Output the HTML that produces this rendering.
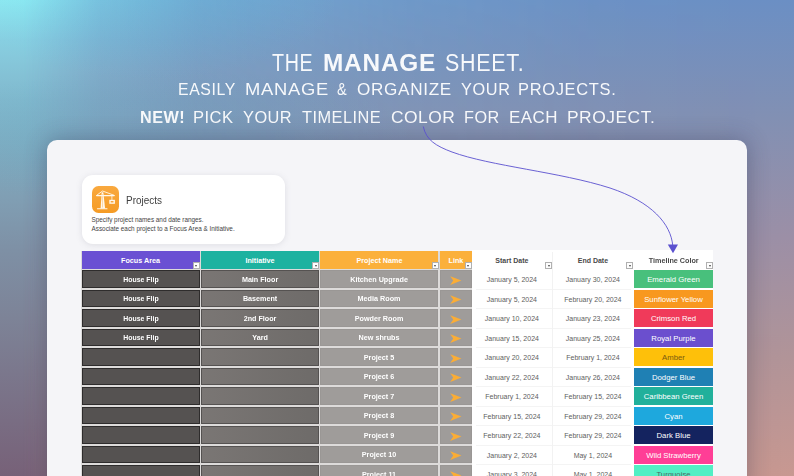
<!DOCTYPE html><html><head><meta charset="utf-8"><title>Manage Sheet</title><style>
html,body{margin:0;padding:0;}
body{width:794px;height:476px;overflow:hidden;position:relative;font-family:"Liberation Sans",sans-serif;background:#7a90b8;}
#bg{position:absolute;left:0;top:0;width:794px;height:476px;
 background:linear-gradient(to bottom, #6b8fc4 0%, #8290b3 25%, #9c8fa6 50%, #b19498 75%, #c89891 100%);
}
#bgr{position:absolute;left:0;top:0;width:794px;height:476px;
 background:radial-gradient(ellipse 190px 80px at 150px 0px, rgba(60,200,235,0.13) 0%, rgba(60,200,235,0.09) 50%, rgba(60,200,235,0) 100%),radial-gradient(ellipse 260px 70px at 160px 138px, rgba(60,170,200,0.13) 0%, rgba(60,170,200,0.09) 50%, rgba(60,170,200,0) 100%);
}
.t{position:absolute;white-space:nowrap;color:rgba(255,255,255,0.94);line-height:1;}
#panel{position:absolute;left:47.4px;top:140.3px;width:699.5px;height:360px;background:#f5f5f8;border-radius:10px;box-shadow:0 0 22px 1px rgba(30,40,70,0.30);}
#card{position:absolute;left:82px;top:174.5px;width:202.5px;height:69px;background:#ffffff;border-radius:11px;box-shadow:0 1px 6px rgba(120,120,140,0.18);}
#icon{position:absolute;left:91.8px;top:186.1px;width:27.1px;height:27px;border-radius:6.5px;background:linear-gradient(to bottom,#f9a93f,#f59b25);}
.c{position:absolute;box-sizing:border-box;}
.ct{position:absolute;white-space:nowrap;text-align:center;line-height:1;}
.fb{position:absolute;width:7.2px;height:7.3px;background:#fdfdfd;box-sizing:border-box;border:0.6px solid #b0b0b0;}
.fb:after{content:"";position:absolute;left:1.5px;top:2.3px;border-left:1.6px solid transparent;border-right:1.6px solid transparent;border-top:2px solid #444;}
</style></head><body>
<div id="bg"></div><svg style="position:absolute;left:0;top:0" width="794" height="476" viewBox="0 0 794 476"><defs><linearGradient id="lv" x1="0" y1="0" x2="0" y2="1"><stop offset="0" stop-color="#8fe9f1"/><stop offset="0.084" stop-color="#88cfe1"/><stop offset="0.21" stop-color="#81b8cd"/><stop offset="0.42" stop-color="#809eb3"/><stop offset="0.525" stop-color="#7e90a5"/><stop offset="0.67" stop-color="#7d8397"/><stop offset="1" stop-color="#776178"/></linearGradient><linearGradient id="mh" x1="0" y1="0" x2="1" y2="0"><stop offset="0" stop-color="#fff" stop-opacity="1"/><stop offset="0.03" stop-color="#fff" stop-opacity="1"/><stop offset="0.126" stop-color="#fff" stop-opacity="0.55"/><stop offset="0.25" stop-color="#fff" stop-opacity="0.28"/><stop offset="0.5" stop-color="#fff" stop-opacity="0.12"/><stop offset="0.75" stop-color="#fff" stop-opacity="0.03"/><stop offset="1" stop-color="#fff" stop-opacity="0"/></linearGradient><mask id="mk" maskUnits="userSpaceOnUse" x="0" y="0" width="794" height="476"><rect x="0" y="0" width="794" height="476" fill="url(#mh)"/></mask></defs><rect x="0" y="0" width="794" height="476" fill="url(#lv)" mask="url(#mk)"/></svg><div id="bgr"></div>
<span class="t" style="left:272.00px;top:50.81px;font-size:24.2px;font-weight:400;letter-spacing:0.8px;transform:scaleX(0.8146);transform-origin:0 0">THE</span>
<span class="t" style="left:322.99px;top:50.81px;font-size:24.2px;font-weight:700;letter-spacing:0.8px;transform:scaleX(1.0076);transform-origin:0 0">MANAGE</span>
<span class="t" style="left:444.91px;top:50.81px;font-size:24.2px;font-weight:400;letter-spacing:0.8px;transform:scaleX(0.8865);transform-origin:0 0">SHEET.</span>
<span class="t" style="left:177.69px;top:80.56px;font-size:17.3px;font-weight:400;letter-spacing:0.7px;transform:scaleX(0.9147);transform-origin:0 0">EASILY</span>
<span class="t" style="left:244.54px;top:80.56px;font-size:17.3px;font-weight:400;letter-spacing:0.7px;transform:scaleX(1.0615);transform-origin:0 0">MANAGE</span>
<span class="t" style="left:337.10px;top:80.56px;font-size:17.3px;font-weight:400;letter-spacing:0.7px;transform:scaleX(0.8417);transform-origin:0 0">&amp;</span>
<span class="t" style="left:357.30px;top:80.56px;font-size:17.3px;font-weight:400;letter-spacing:0.7px;transform:scaleX(0.9902);transform-origin:0 0">ORGANIZE</span>
<span class="t" style="left:461.00px;top:80.56px;font-size:17.3px;font-weight:400;letter-spacing:0.7px;transform:scaleX(0.9428);transform-origin:0 0">YOUR</span>
<span class="t" style="left:518.25px;top:80.56px;font-size:17.3px;font-weight:400;letter-spacing:0.7px;transform:scaleX(0.9526);transform-origin:0 0">PROJECTS.</span>
<span class="t" style="left:140.06px;top:108.66px;font-size:17.3px;font-weight:700;letter-spacing:0.5px;transform:scaleX(0.9385);transform-origin:0 0">NEW!</span>
<span class="t" style="left:193.14px;top:108.66px;font-size:17.3px;font-weight:400;letter-spacing:0.5px;transform:scaleX(0.9587);transform-origin:0 0">PICK</span>
<span class="t" style="left:243.30px;top:108.66px;font-size:17.3px;font-weight:400;letter-spacing:0.5px;transform:scaleX(0.9461);transform-origin:0 0">YOUR</span>
<span class="t" style="left:301.80px;top:108.66px;font-size:17.3px;font-weight:400;letter-spacing:0.5px;transform:scaleX(0.9447);transform-origin:0 0">TIMELINE</span>
<span class="t" style="left:390.60px;top:108.66px;font-size:17.3px;font-weight:400;letter-spacing:0.5px;transform:scaleX(1.0068);transform-origin:0 0">COLOR</span>
<span class="t" style="left:464.26px;top:108.66px;font-size:17.3px;font-weight:400;letter-spacing:0.5px;transform:scaleX(0.9389);transform-origin:0 0">FOR</span>
<span class="t" style="left:508.62px;top:108.66px;font-size:17.3px;font-weight:400;letter-spacing:0.5px;transform:scaleX(0.9806);transform-origin:0 0">EACH</span>
<span class="t" style="left:566.79px;top:108.66px;font-size:17.3px;font-weight:400;letter-spacing:0.5px;transform:scaleX(1.0078);transform-origin:0 0">PROJECT.</span>
<div id="panel"></div>
<div id="card"></div>
<div id="icon"></div>
<svg style="position:absolute;left:91.8px;top:186.1px" width="27.3" height="27" viewBox="0 0 27.3 27">
<path d="M9.7 6.2 L11.3 6.2 L13.1 22.4 L8.6 22.4 Z" fill="#fff8ec"/>
<path d="M10.5 8 L10.5 21.5" stroke="#f8b867" stroke-width="0.5"/>
<g fill="none" stroke="#fff8ec" stroke-linecap="round" stroke-linejoin="round">
<path d="M4.6 9.5 H22.2" stroke-width="1.25"/>
<path d="M4.9 9.2 L10.5 5 L21.9 9.2" stroke-width="0.9"/>
<path d="M5.4 22.8 H15" stroke-width="1.1"/>
<path d="M19.9 9.6 V13.8" stroke-width="0.8"/>
</g>
<rect x="17.3" y="13.8" width="5.6" height="4.0" fill="#fff8ec"/>
<rect x="18.7" y="15.0" width="2.8" height="1.5" fill="#f7a640"/>
</svg>
<span class="t" style="left:126.4px;top:195.2px;font-size:11.3px;color:#3f3f3f;transform:scaleX(0.88);transform-origin:0 0">Projects</span>
<span class="t" id="d1" style="left:91.5px;top:217.4px;font-size:6.37px;color:#444;">Specify project names and date ranges.</span>
<span class="t" id="d2" style="left:91.5px;top:226.0px;font-size:6.37px;color:#444;">Associate each project to a Focus Area &amp; Initiative.</span>
<div class="c" style="left:471.8px;top:250.3px;width:241.4px;height:240px;background:#ffffff"></div>
<div class="c" style="left:81.1px;top:250.6px;width:390.6px;height:240px;background:#dddbda"></div>
<div class="c" style="left:81.5px;top:250.7px;width:118.0px;height:18.4px;background:#6a50d3"></div>
<span class="ct" style="left:81.5px;width:118.0px;top:257.0px;font-size:7.2px;font-weight:700;color:#fff;transform:scaleX(1)">Focus Area</span>
<div class="fb" style="left:192.6px;top:261.8px"></div>
<div class="c" style="left:201.0px;top:250.7px;width:118.1px;height:18.4px;background:#1db2a0"></div>
<span class="ct" style="left:201.0px;width:118.1px;top:257.0px;font-size:7.2px;font-weight:700;color:#fff;transform:scaleX(1)">Initiative</span>
<div class="fb" style="left:312.2px;top:261.8px"></div>
<div class="c" style="left:320.4px;top:250.7px;width:118.1px;height:18.4px;background:#fbb03b"></div>
<span class="ct" style="left:320.4px;width:118.1px;top:257.0px;font-size:7.2px;font-weight:700;color:#fff;transform:scaleX(1)">Project Name</span>
<div class="fb" style="left:431.6px;top:261.8px"></div>
<div class="c" style="left:440.1px;top:250.7px;width:31.6px;height:18.4px;background:#fbb03b"></div>
<span class="ct" style="left:440.1px;width:31.6px;top:257.0px;font-size:7.2px;font-weight:700;color:#fff;transform:scaleX(1)">Link</span>
<div class="fb" style="left:464.8px;top:261.8px"></div>
<span class="ct" style="left:471.8px;width:80.2px;top:257.0px;font-size:7.0px;font-weight:700;color:#4a4a4a;transform:scaleX(1)">Start Date</span>
<div class="fb" style="left:545.1px;top:261.8px"></div>
<span class="ct" style="left:552.6px;width:80.6px;top:257.0px;font-size:7.0px;font-weight:700;color:#4a4a4a;transform:scaleX(1)">End Date</span>
<div class="fb" style="left:626.3px;top:261.8px"></div>
<span class="ct" style="left:633.8px;width:79.4px;top:257.0px;font-size:7.0px;font-weight:700;color:#4a4a4a;transform:scaleX(1.03)">Timeline Color</span>
<div class="fb" style="left:706.3px;top:261.8px"></div>
<div class="c" style="left:81.5px;top:270.10px;width:118.0px;height:17.8px;background:#555251;border-top:1px solid #2e2c2c;border-bottom:1px solid #2e2c2c;border-left:1px solid #2e2c2c;border-right:0.6px solid #2e2c2c;"></div>
<span class="ct" style="left:81.5px;width:118.0px;top:275.70px;font-size:7.6px;font-weight:700;color:#fff;transform:scaleX(0.91)">House Flip</span>
<div class="c" style="left:201.0px;top:270.10px;width:118.1px;height:17.8px;background:linear-gradient(to right,#7a7674,#6e6b69);border-top:1px solid #555251;border-bottom:1px solid #555251;border-left:1px solid #555251;border-right:0.6px solid #555251;"></div>
<span class="ct" style="left:201.0px;width:118.1px;top:275.70px;font-size:7.6px;font-weight:700;color:#fff;transform:scaleX(0.945)">Main Floor</span>
<div class="c" style="left:320.4px;top:270.10px;width:118.1px;height:17.8px;background:#9f9c9a;border-top:1px solid #9a9795;border-bottom:1px solid #9a9795;border-left:1px solid #9a9795;border-right:0.6px solid #9a9795;"></div>
<span class="ct" style="left:320.4px;width:118.1px;top:275.70px;font-size:7.6px;font-weight:700;color:#fff;transform:scaleX(0.95)">Kitchen Upgrade</span>
<div class="c" style="left:440.1px;top:270.10px;width:31.6px;height:17.8px;background:#9f9c9a;border-top:1px solid #9a9795;border-bottom:1px solid #9a9795;border-left:1px solid #9a9795;border-right:0.6px solid #9a9795;"></div>
<svg style="position:absolute;left:450.3px;top:275.60px" width="11.6" height="9.2" viewBox="0 0 11.6 9.2"><path d="M0.2 0.2 L11.4 4.6 L0.2 9 L3.2 4.6 Z" fill="#fbad35"/></svg>
<span class="ct" style="left:471.8px;width:80.2px;top:276.00px;font-size:7.0px;color:#5e5e5e">January 5, 2024</span>
<span class="ct" style="left:552.6px;width:80.6px;top:276.00px;font-size:7.0px;color:#5e5e5e">January 30, 2024</span>
<div class="c" style="left:475.8px;top:288.50px;width:155.4px;height:0.8px;background:#f4f4f4"></div>
<div class="c" style="left:633.8px;top:270.40px;width:79.4px;height:17.7px;background:#48c07c"></div>
<span class="ct" style="left:633.8px;width:79.4px;top:276.40px;font-size:7.75px;color:#ffffff">Emerald Green</span>
<div class="c" style="left:81.5px;top:289.60px;width:118.0px;height:17.8px;background:#555251;border-top:1px solid #2e2c2c;border-bottom:1px solid #2e2c2c;border-left:1px solid #2e2c2c;border-right:0.6px solid #2e2c2c;"></div>
<span class="ct" style="left:81.5px;width:118.0px;top:295.20px;font-size:7.6px;font-weight:700;color:#fff;transform:scaleX(0.91)">House Flip</span>
<div class="c" style="left:201.0px;top:289.60px;width:118.1px;height:17.8px;background:linear-gradient(to right,#7a7674,#6e6b69);border-top:1px solid #555251;border-bottom:1px solid #555251;border-left:1px solid #555251;border-right:0.6px solid #555251;"></div>
<span class="ct" style="left:201.0px;width:118.1px;top:295.20px;font-size:7.6px;font-weight:700;color:#fff;transform:scaleX(0.945)">Basement</span>
<div class="c" style="left:320.4px;top:289.60px;width:118.1px;height:17.8px;background:#9f9c9a;border-top:1px solid #9a9795;border-bottom:1px solid #9a9795;border-left:1px solid #9a9795;border-right:0.6px solid #9a9795;"></div>
<span class="ct" style="left:320.4px;width:118.1px;top:295.20px;font-size:7.6px;font-weight:700;color:#fff;transform:scaleX(0.95)">Media Room</span>
<div class="c" style="left:440.1px;top:289.60px;width:31.6px;height:17.8px;background:#9f9c9a;border-top:1px solid #9a9795;border-bottom:1px solid #9a9795;border-left:1px solid #9a9795;border-right:0.6px solid #9a9795;"></div>
<svg style="position:absolute;left:450.3px;top:295.10px" width="11.6" height="9.2" viewBox="0 0 11.6 9.2"><path d="M0.2 0.2 L11.4 4.6 L0.2 9 L3.2 4.6 Z" fill="#fbad35"/></svg>
<span class="ct" style="left:471.8px;width:80.2px;top:295.50px;font-size:7.0px;color:#5e5e5e">January 5, 2024</span>
<span class="ct" style="left:552.6px;width:80.6px;top:295.50px;font-size:7.0px;color:#5e5e5e">February 20, 2024</span>
<div class="c" style="left:475.8px;top:308.00px;width:155.4px;height:0.8px;background:#f4f4f4"></div>
<div class="c" style="left:633.8px;top:289.90px;width:79.4px;height:17.7px;background:#f8981f"></div>
<span class="ct" style="left:633.8px;width:79.4px;top:295.90px;font-size:7.75px;color:#ffffff">Sunflower Yellow</span>
<div class="c" style="left:81.5px;top:309.10px;width:118.0px;height:17.8px;background:#555251;border-top:1px solid #2e2c2c;border-bottom:1px solid #2e2c2c;border-left:1px solid #2e2c2c;border-right:0.6px solid #2e2c2c;"></div>
<span class="ct" style="left:81.5px;width:118.0px;top:314.70px;font-size:7.6px;font-weight:700;color:#fff;transform:scaleX(0.91)">House Flip</span>
<div class="c" style="left:201.0px;top:309.10px;width:118.1px;height:17.8px;background:linear-gradient(to right,#7a7674,#6e6b69);border-top:1px solid #555251;border-bottom:1px solid #555251;border-left:1px solid #555251;border-right:0.6px solid #555251;"></div>
<span class="ct" style="left:201.0px;width:118.1px;top:314.70px;font-size:7.6px;font-weight:700;color:#fff;transform:scaleX(0.945)">2nd Floor</span>
<div class="c" style="left:320.4px;top:309.10px;width:118.1px;height:17.8px;background:#9f9c9a;border-top:1px solid #9a9795;border-bottom:1px solid #9a9795;border-left:1px solid #9a9795;border-right:0.6px solid #9a9795;"></div>
<span class="ct" style="left:320.4px;width:118.1px;top:314.70px;font-size:7.6px;font-weight:700;color:#fff;transform:scaleX(0.95)">Powder Room</span>
<div class="c" style="left:440.1px;top:309.10px;width:31.6px;height:17.8px;background:#9f9c9a;border-top:1px solid #9a9795;border-bottom:1px solid #9a9795;border-left:1px solid #9a9795;border-right:0.6px solid #9a9795;"></div>
<svg style="position:absolute;left:450.3px;top:314.60px" width="11.6" height="9.2" viewBox="0 0 11.6 9.2"><path d="M0.2 0.2 L11.4 4.6 L0.2 9 L3.2 4.6 Z" fill="#fbad35"/></svg>
<span class="ct" style="left:471.8px;width:80.2px;top:315.00px;font-size:7.0px;color:#5e5e5e">January 10, 2024</span>
<span class="ct" style="left:552.6px;width:80.6px;top:315.00px;font-size:7.0px;color:#5e5e5e">January 23, 2024</span>
<div class="c" style="left:475.8px;top:327.50px;width:155.4px;height:0.8px;background:#f4f4f4"></div>
<div class="c" style="left:633.8px;top:309.40px;width:79.4px;height:17.7px;background:#f03a5a"></div>
<span class="ct" style="left:633.8px;width:79.4px;top:315.40px;font-size:7.75px;color:#ffffff">Crimson Red</span>
<div class="c" style="left:81.5px;top:328.60px;width:118.0px;height:17.8px;background:#555251;border-top:1px solid #2e2c2c;border-bottom:1px solid #2e2c2c;border-left:1px solid #2e2c2c;border-right:0.6px solid #2e2c2c;"></div>
<span class="ct" style="left:81.5px;width:118.0px;top:334.20px;font-size:7.6px;font-weight:700;color:#fff;transform:scaleX(0.91)">House Flip</span>
<div class="c" style="left:201.0px;top:328.60px;width:118.1px;height:17.8px;background:linear-gradient(to right,#7a7674,#6e6b69);border-top:1px solid #555251;border-bottom:1px solid #555251;border-left:1px solid #555251;border-right:0.6px solid #555251;"></div>
<span class="ct" style="left:201.0px;width:118.1px;top:334.20px;font-size:7.6px;font-weight:700;color:#fff;transform:scaleX(0.945)">Yard</span>
<div class="c" style="left:320.4px;top:328.60px;width:118.1px;height:17.8px;background:#9f9c9a;border-top:1px solid #9a9795;border-bottom:1px solid #9a9795;border-left:1px solid #9a9795;border-right:0.6px solid #9a9795;"></div>
<span class="ct" style="left:320.4px;width:118.1px;top:334.20px;font-size:7.6px;font-weight:700;color:#fff;transform:scaleX(0.95)">New shrubs</span>
<div class="c" style="left:440.1px;top:328.60px;width:31.6px;height:17.8px;background:#9f9c9a;border-top:1px solid #9a9795;border-bottom:1px solid #9a9795;border-left:1px solid #9a9795;border-right:0.6px solid #9a9795;"></div>
<svg style="position:absolute;left:450.3px;top:334.10px" width="11.6" height="9.2" viewBox="0 0 11.6 9.2"><path d="M0.2 0.2 L11.4 4.6 L0.2 9 L3.2 4.6 Z" fill="#fbad35"/></svg>
<span class="ct" style="left:471.8px;width:80.2px;top:334.50px;font-size:7.0px;color:#5e5e5e">January 15, 2024</span>
<span class="ct" style="left:552.6px;width:80.6px;top:334.50px;font-size:7.0px;color:#5e5e5e">January 25, 2024</span>
<div class="c" style="left:475.8px;top:347.00px;width:155.4px;height:0.8px;background:#f4f4f4"></div>
<div class="c" style="left:633.8px;top:328.90px;width:79.4px;height:17.7px;background:#6b4fce"></div>
<span class="ct" style="left:633.8px;width:79.4px;top:334.90px;font-size:7.75px;color:#ffffff">Royal Purple</span>
<div class="c" style="left:81.5px;top:348.10px;width:118.0px;height:17.8px;background:#555251;border-top:1px solid #2e2c2c;border-bottom:1px solid #2e2c2c;border-left:1px solid #2e2c2c;border-right:0.6px solid #2e2c2c;"></div>
<div class="c" style="left:201.0px;top:348.10px;width:118.1px;height:17.8px;background:linear-gradient(to right,#7a7674,#6e6b69);border-top:1px solid #555251;border-bottom:1px solid #555251;border-left:1px solid #555251;border-right:0.6px solid #555251;"></div>
<div class="c" style="left:320.4px;top:348.10px;width:118.1px;height:17.8px;background:#9f9c9a;border-top:1px solid #9a9795;border-bottom:1px solid #9a9795;border-left:1px solid #9a9795;border-right:0.6px solid #9a9795;"></div>
<span class="ct" style="left:320.4px;width:118.1px;top:353.70px;font-size:7.6px;font-weight:700;color:#fff;transform:scaleX(0.95)">Project 5</span>
<div class="c" style="left:440.1px;top:348.10px;width:31.6px;height:17.8px;background:#9f9c9a;border-top:1px solid #9a9795;border-bottom:1px solid #9a9795;border-left:1px solid #9a9795;border-right:0.6px solid #9a9795;"></div>
<svg style="position:absolute;left:450.3px;top:353.60px" width="11.6" height="9.2" viewBox="0 0 11.6 9.2"><path d="M0.2 0.2 L11.4 4.6 L0.2 9 L3.2 4.6 Z" fill="#fbad35"/></svg>
<span class="ct" style="left:471.8px;width:80.2px;top:354.00px;font-size:7.0px;color:#5e5e5e">January 20, 2024</span>
<span class="ct" style="left:552.6px;width:80.6px;top:354.00px;font-size:7.0px;color:#5e5e5e">February 1, 2024</span>
<div class="c" style="left:475.8px;top:366.50px;width:155.4px;height:0.8px;background:#f4f4f4"></div>
<div class="c" style="left:633.8px;top:348.40px;width:79.4px;height:17.7px;background:#fec00a"></div>
<span class="ct" style="left:633.8px;width:79.4px;top:354.40px;font-size:7.75px;color:#7a5a10">Amber</span>
<div class="c" style="left:81.5px;top:367.60px;width:118.0px;height:17.8px;background:#555251;border-top:1px solid #2e2c2c;border-bottom:1px solid #2e2c2c;border-left:1px solid #2e2c2c;border-right:0.6px solid #2e2c2c;"></div>
<div class="c" style="left:201.0px;top:367.60px;width:118.1px;height:17.8px;background:linear-gradient(to right,#7a7674,#6e6b69);border-top:1px solid #555251;border-bottom:1px solid #555251;border-left:1px solid #555251;border-right:0.6px solid #555251;"></div>
<div class="c" style="left:320.4px;top:367.60px;width:118.1px;height:17.8px;background:#9f9c9a;border-top:1px solid #9a9795;border-bottom:1px solid #9a9795;border-left:1px solid #9a9795;border-right:0.6px solid #9a9795;"></div>
<span class="ct" style="left:320.4px;width:118.1px;top:373.20px;font-size:7.6px;font-weight:700;color:#fff;transform:scaleX(0.95)">Project 6</span>
<div class="c" style="left:440.1px;top:367.60px;width:31.6px;height:17.8px;background:#9f9c9a;border-top:1px solid #9a9795;border-bottom:1px solid #9a9795;border-left:1px solid #9a9795;border-right:0.6px solid #9a9795;"></div>
<svg style="position:absolute;left:450.3px;top:373.10px" width="11.6" height="9.2" viewBox="0 0 11.6 9.2"><path d="M0.2 0.2 L11.4 4.6 L0.2 9 L3.2 4.6 Z" fill="#fbad35"/></svg>
<span class="ct" style="left:471.8px;width:80.2px;top:373.50px;font-size:7.0px;color:#5e5e5e">January 22, 2024</span>
<span class="ct" style="left:552.6px;width:80.6px;top:373.50px;font-size:7.0px;color:#5e5e5e">January 26, 2024</span>
<div class="c" style="left:475.8px;top:386.00px;width:155.4px;height:0.8px;background:#f4f4f4"></div>
<div class="c" style="left:633.8px;top:367.90px;width:79.4px;height:17.7px;background:#1f80b4"></div>
<span class="ct" style="left:633.8px;width:79.4px;top:373.90px;font-size:7.75px;color:#ffffff">Dodger Blue</span>
<div class="c" style="left:81.5px;top:387.10px;width:118.0px;height:17.8px;background:#555251;border-top:1px solid #2e2c2c;border-bottom:1px solid #2e2c2c;border-left:1px solid #2e2c2c;border-right:0.6px solid #2e2c2c;"></div>
<div class="c" style="left:201.0px;top:387.10px;width:118.1px;height:17.8px;background:linear-gradient(to right,#7a7674,#6e6b69);border-top:1px solid #555251;border-bottom:1px solid #555251;border-left:1px solid #555251;border-right:0.6px solid #555251;"></div>
<div class="c" style="left:320.4px;top:387.10px;width:118.1px;height:17.8px;background:#9f9c9a;border-top:1px solid #9a9795;border-bottom:1px solid #9a9795;border-left:1px solid #9a9795;border-right:0.6px solid #9a9795;"></div>
<span class="ct" style="left:320.4px;width:118.1px;top:392.70px;font-size:7.6px;font-weight:700;color:#fff;transform:scaleX(0.95)">Project 7</span>
<div class="c" style="left:440.1px;top:387.10px;width:31.6px;height:17.8px;background:#9f9c9a;border-top:1px solid #9a9795;border-bottom:1px solid #9a9795;border-left:1px solid #9a9795;border-right:0.6px solid #9a9795;"></div>
<svg style="position:absolute;left:450.3px;top:392.60px" width="11.6" height="9.2" viewBox="0 0 11.6 9.2"><path d="M0.2 0.2 L11.4 4.6 L0.2 9 L3.2 4.6 Z" fill="#fbad35"/></svg>
<span class="ct" style="left:471.8px;width:80.2px;top:393.00px;font-size:7.0px;color:#5e5e5e">February 1, 2024</span>
<span class="ct" style="left:552.6px;width:80.6px;top:393.00px;font-size:7.0px;color:#5e5e5e">February 15, 2024</span>
<div class="c" style="left:475.8px;top:405.50px;width:155.4px;height:0.8px;background:#f4f4f4"></div>
<div class="c" style="left:633.8px;top:387.40px;width:79.4px;height:17.7px;background:#21b09b"></div>
<span class="ct" style="left:633.8px;width:79.4px;top:393.40px;font-size:7.75px;color:#ffffff">Caribbean Green</span>
<div class="c" style="left:81.5px;top:406.60px;width:118.0px;height:17.8px;background:#555251;border-top:1px solid #2e2c2c;border-bottom:1px solid #2e2c2c;border-left:1px solid #2e2c2c;border-right:0.6px solid #2e2c2c;"></div>
<div class="c" style="left:201.0px;top:406.60px;width:118.1px;height:17.8px;background:linear-gradient(to right,#7a7674,#6e6b69);border-top:1px solid #555251;border-bottom:1px solid #555251;border-left:1px solid #555251;border-right:0.6px solid #555251;"></div>
<div class="c" style="left:320.4px;top:406.60px;width:118.1px;height:17.8px;background:#9f9c9a;border-top:1px solid #9a9795;border-bottom:1px solid #9a9795;border-left:1px solid #9a9795;border-right:0.6px solid #9a9795;"></div>
<span class="ct" style="left:320.4px;width:118.1px;top:412.20px;font-size:7.6px;font-weight:700;color:#fff;transform:scaleX(0.95)">Project 8</span>
<div class="c" style="left:440.1px;top:406.60px;width:31.6px;height:17.8px;background:#9f9c9a;border-top:1px solid #9a9795;border-bottom:1px solid #9a9795;border-left:1px solid #9a9795;border-right:0.6px solid #9a9795;"></div>
<svg style="position:absolute;left:450.3px;top:412.10px" width="11.6" height="9.2" viewBox="0 0 11.6 9.2"><path d="M0.2 0.2 L11.4 4.6 L0.2 9 L3.2 4.6 Z" fill="#fbad35"/></svg>
<span class="ct" style="left:471.8px;width:80.2px;top:412.50px;font-size:7.0px;color:#5e5e5e">February 15, 2024</span>
<span class="ct" style="left:552.6px;width:80.6px;top:412.50px;font-size:7.0px;color:#5e5e5e">February 29, 2024</span>
<div class="c" style="left:475.8px;top:425.00px;width:155.4px;height:0.8px;background:#f4f4f4"></div>
<div class="c" style="left:633.8px;top:406.90px;width:79.4px;height:17.7px;background:#1ea8dd"></div>
<span class="ct" style="left:633.8px;width:79.4px;top:412.90px;font-size:7.75px;color:#ffffff">Cyan</span>
<div class="c" style="left:81.5px;top:426.10px;width:118.0px;height:17.8px;background:#555251;border-top:1px solid #2e2c2c;border-bottom:1px solid #2e2c2c;border-left:1px solid #2e2c2c;border-right:0.6px solid #2e2c2c;"></div>
<div class="c" style="left:201.0px;top:426.10px;width:118.1px;height:17.8px;background:linear-gradient(to right,#7a7674,#6e6b69);border-top:1px solid #555251;border-bottom:1px solid #555251;border-left:1px solid #555251;border-right:0.6px solid #555251;"></div>
<div class="c" style="left:320.4px;top:426.10px;width:118.1px;height:17.8px;background:#9f9c9a;border-top:1px solid #9a9795;border-bottom:1px solid #9a9795;border-left:1px solid #9a9795;border-right:0.6px solid #9a9795;"></div>
<span class="ct" style="left:320.4px;width:118.1px;top:431.70px;font-size:7.6px;font-weight:700;color:#fff;transform:scaleX(0.95)">Project 9</span>
<div class="c" style="left:440.1px;top:426.10px;width:31.6px;height:17.8px;background:#9f9c9a;border-top:1px solid #9a9795;border-bottom:1px solid #9a9795;border-left:1px solid #9a9795;border-right:0.6px solid #9a9795;"></div>
<svg style="position:absolute;left:450.3px;top:431.60px" width="11.6" height="9.2" viewBox="0 0 11.6 9.2"><path d="M0.2 0.2 L11.4 4.6 L0.2 9 L3.2 4.6 Z" fill="#fbad35"/></svg>
<span class="ct" style="left:471.8px;width:80.2px;top:432.00px;font-size:7.0px;color:#5e5e5e">February 22, 2024</span>
<span class="ct" style="left:552.6px;width:80.6px;top:432.00px;font-size:7.0px;color:#5e5e5e">February 29, 2024</span>
<div class="c" style="left:475.8px;top:444.50px;width:155.4px;height:0.8px;background:#f4f4f4"></div>
<div class="c" style="left:633.8px;top:426.40px;width:79.4px;height:17.7px;background:#14235f"></div>
<span class="ct" style="left:633.8px;width:79.4px;top:432.40px;font-size:7.75px;color:#ffffff">Dark Blue</span>
<div class="c" style="left:81.5px;top:445.60px;width:118.0px;height:17.8px;background:#555251;border-top:1px solid #2e2c2c;border-bottom:1px solid #2e2c2c;border-left:1px solid #2e2c2c;border-right:0.6px solid #2e2c2c;"></div>
<div class="c" style="left:201.0px;top:445.60px;width:118.1px;height:17.8px;background:linear-gradient(to right,#7a7674,#6e6b69);border-top:1px solid #555251;border-bottom:1px solid #555251;border-left:1px solid #555251;border-right:0.6px solid #555251;"></div>
<div class="c" style="left:320.4px;top:445.60px;width:118.1px;height:17.8px;background:#9f9c9a;border-top:1px solid #9a9795;border-bottom:1px solid #9a9795;border-left:1px solid #9a9795;border-right:0.6px solid #9a9795;"></div>
<span class="ct" style="left:320.4px;width:118.1px;top:451.20px;font-size:7.6px;font-weight:700;color:#fff;transform:scaleX(0.95)">Project 10</span>
<div class="c" style="left:440.1px;top:445.60px;width:31.6px;height:17.8px;background:#9f9c9a;border-top:1px solid #9a9795;border-bottom:1px solid #9a9795;border-left:1px solid #9a9795;border-right:0.6px solid #9a9795;"></div>
<svg style="position:absolute;left:450.3px;top:451.10px" width="11.6" height="9.2" viewBox="0 0 11.6 9.2"><path d="M0.2 0.2 L11.4 4.6 L0.2 9 L3.2 4.6 Z" fill="#fbad35"/></svg>
<span class="ct" style="left:471.8px;width:80.2px;top:451.50px;font-size:7.0px;color:#5e5e5e">January 2, 2024</span>
<span class="ct" style="left:552.6px;width:80.6px;top:451.50px;font-size:7.0px;color:#5e5e5e">May 1, 2024</span>
<div class="c" style="left:475.8px;top:464.00px;width:155.4px;height:0.8px;background:#f4f4f4"></div>
<div class="c" style="left:633.8px;top:445.90px;width:79.4px;height:17.7px;background:#ff3e96"></div>
<span class="ct" style="left:633.8px;width:79.4px;top:451.90px;font-size:7.75px;color:#ffffff">Wild Strawberry</span>
<div class="c" style="left:81.5px;top:465.10px;width:118.0px;height:17.8px;background:#555251;border-top:1px solid #2e2c2c;border-bottom:1px solid #2e2c2c;border-left:1px solid #2e2c2c;border-right:0.6px solid #2e2c2c;"></div>
<div class="c" style="left:201.0px;top:465.10px;width:118.1px;height:17.8px;background:linear-gradient(to right,#7a7674,#6e6b69);border-top:1px solid #555251;border-bottom:1px solid #555251;border-left:1px solid #555251;border-right:0.6px solid #555251;"></div>
<div class="c" style="left:320.4px;top:465.10px;width:118.1px;height:17.8px;background:#9f9c9a;border-top:1px solid #9a9795;border-bottom:1px solid #9a9795;border-left:1px solid #9a9795;border-right:0.6px solid #9a9795;"></div>
<span class="ct" style="left:320.4px;width:118.1px;top:470.70px;font-size:7.6px;font-weight:700;color:#fff;transform:scaleX(0.95)">Project 11</span>
<div class="c" style="left:440.1px;top:465.10px;width:31.6px;height:17.8px;background:#9f9c9a;border-top:1px solid #9a9795;border-bottom:1px solid #9a9795;border-left:1px solid #9a9795;border-right:0.6px solid #9a9795;"></div>
<svg style="position:absolute;left:450.3px;top:470.60px" width="11.6" height="9.2" viewBox="0 0 11.6 9.2"><path d="M0.2 0.2 L11.4 4.6 L0.2 9 L3.2 4.6 Z" fill="#fbad35"/></svg>
<span class="ct" style="left:471.8px;width:80.2px;top:471.00px;font-size:7.0px;color:#5e5e5e">January 3, 2024</span>
<span class="ct" style="left:552.6px;width:80.6px;top:471.00px;font-size:7.0px;color:#5e5e5e">May 1, 2024</span>
<div class="c" style="left:475.8px;top:483.50px;width:155.4px;height:0.8px;background:#f4f4f4"></div>
<div class="c" style="left:633.8px;top:465.40px;width:79.4px;height:17.7px;background:#52efc4"></div>
<span class="ct" style="left:633.8px;width:79.4px;top:471.40px;font-size:7.75px;color:#4a6a66">Turquoise</span>
<div class="c" style="left:552.1px;top:252px;width:0.8px;height:230px;background:#f2f2f2"></div>
<svg style="position:absolute;left:0;top:0" width="794" height="476" viewBox="0 0 794 476">
<path d="M423.3 126.5 C 426 140, 436 146, 452 152 C 490 166, 560 172, 610 188 C 652 202, 671 224, 672.8 246" fill="none" stroke="#5a50cf" stroke-width="0.9"/>
<path d="M667.8 244.6 L678 244.6 L673 253.2 Z" fill="#5a50cf"/>
</svg>
</body></html>
